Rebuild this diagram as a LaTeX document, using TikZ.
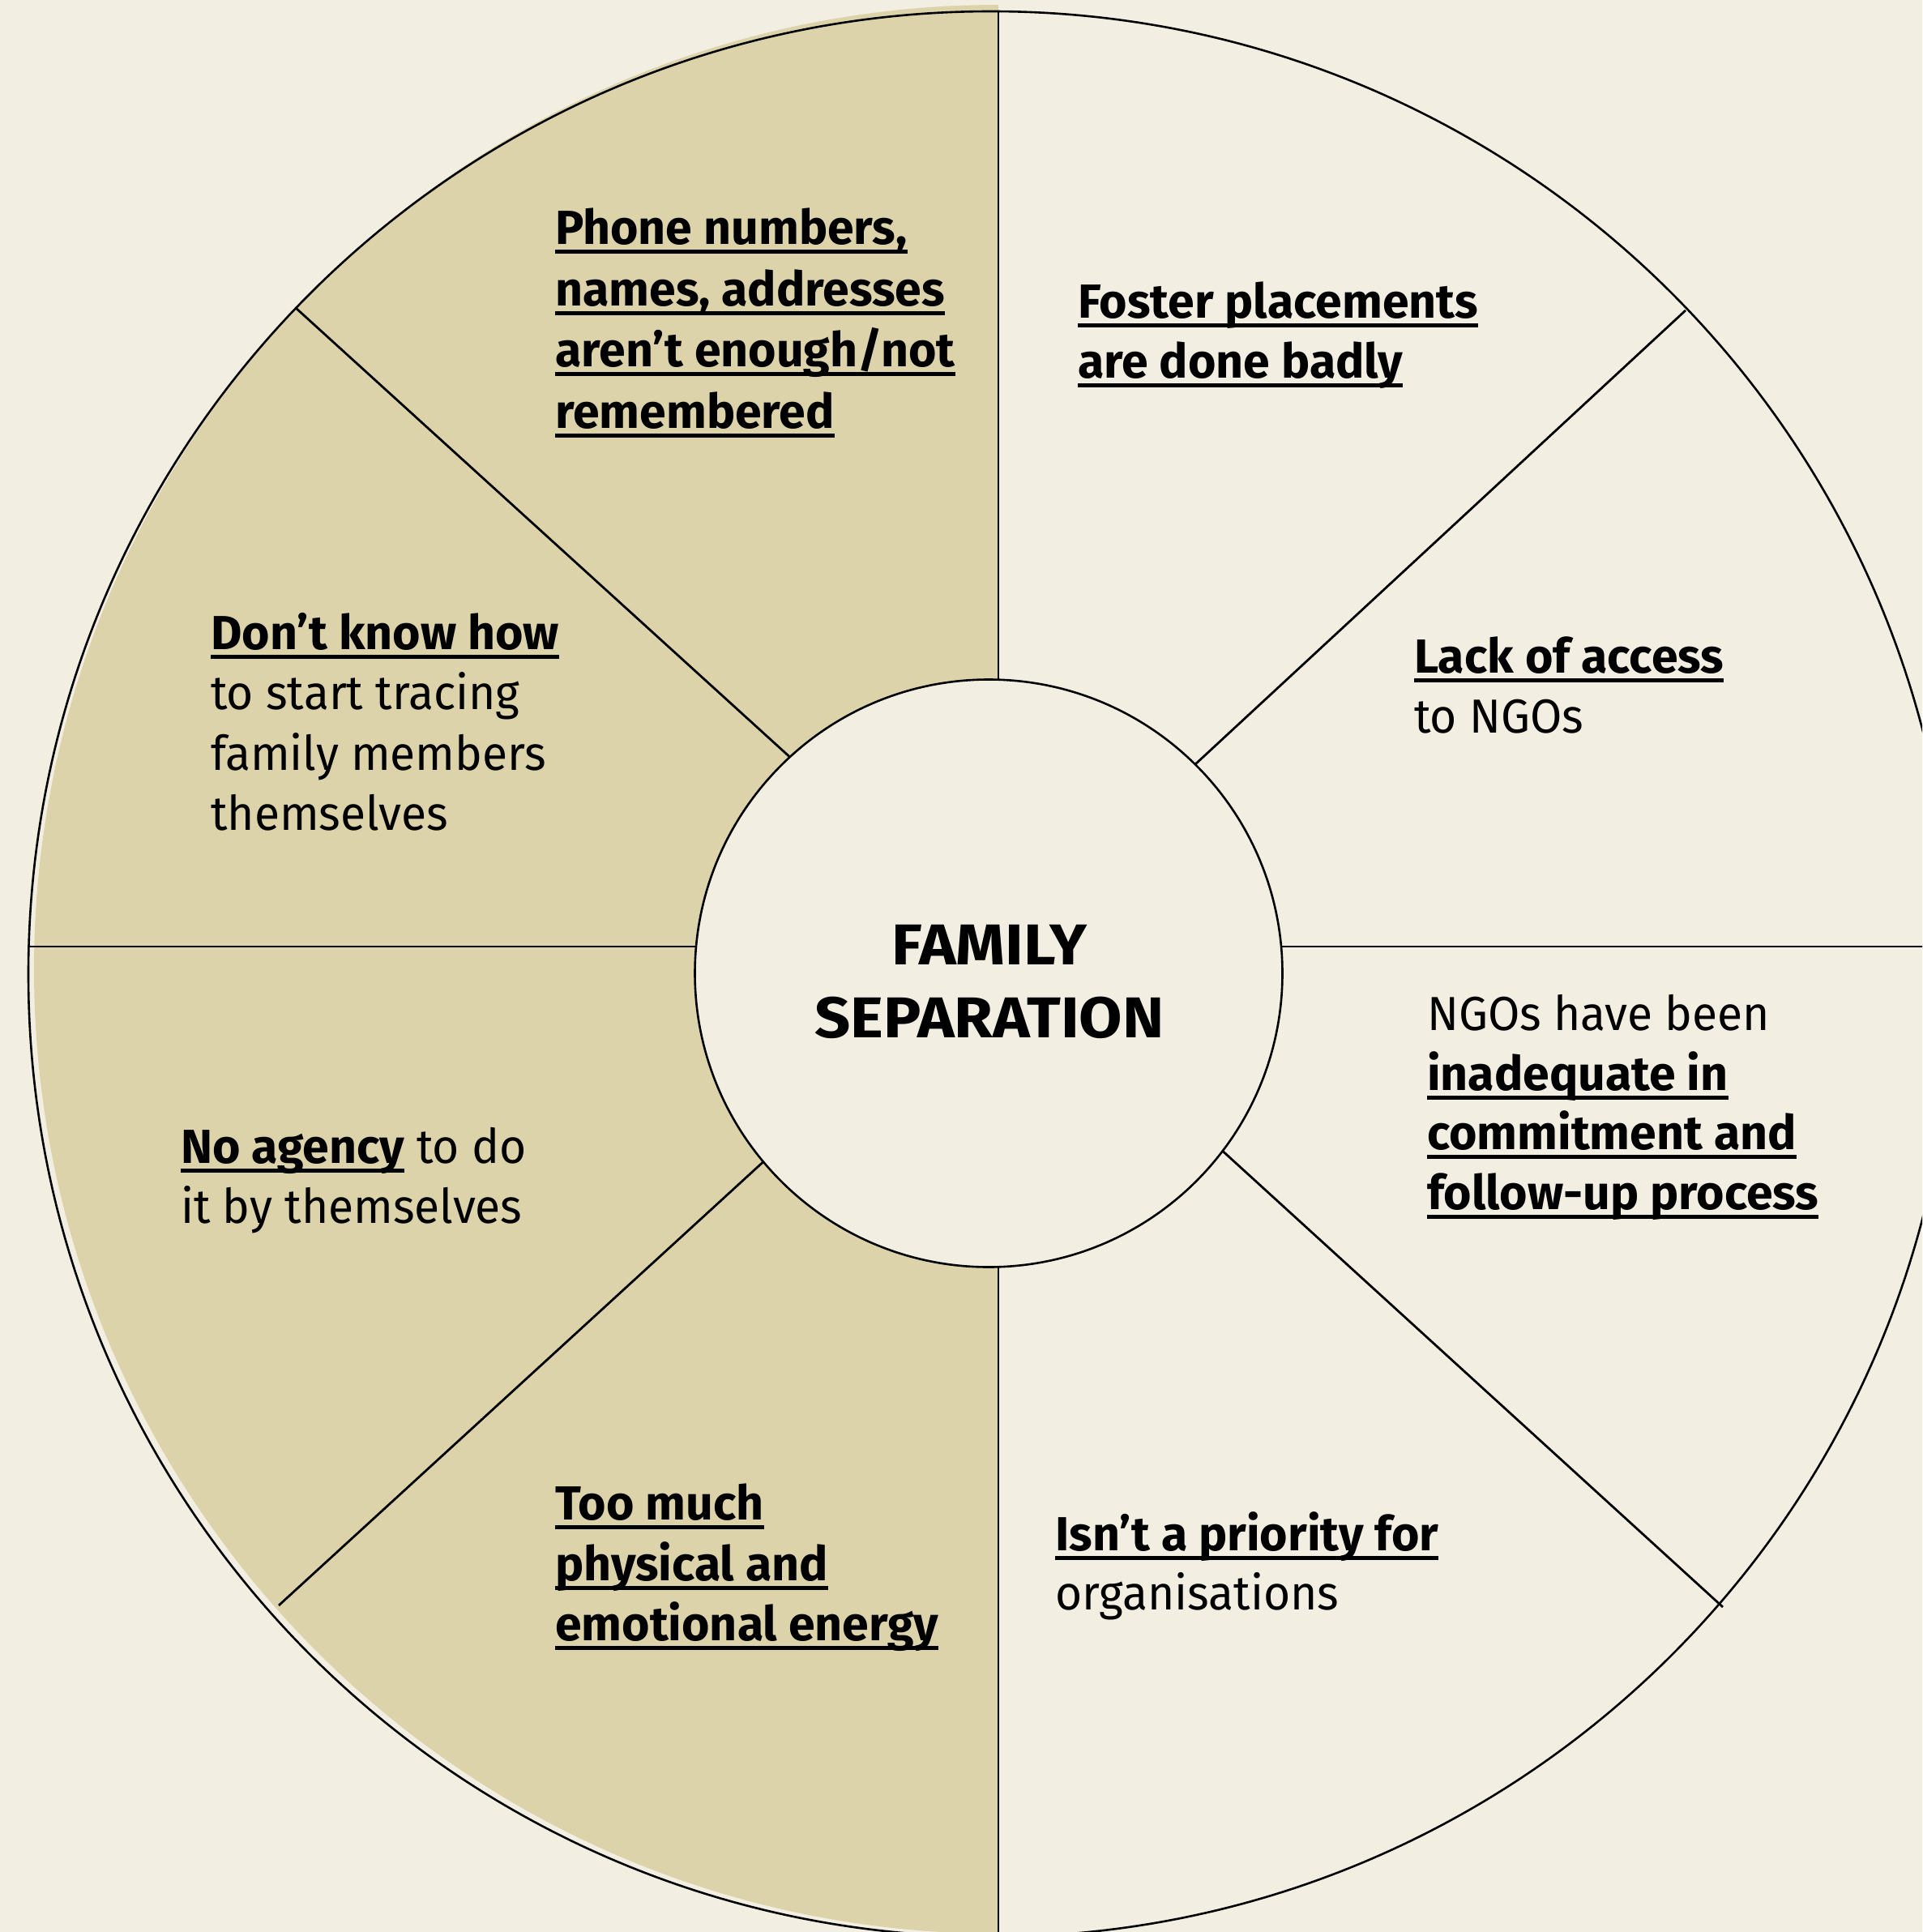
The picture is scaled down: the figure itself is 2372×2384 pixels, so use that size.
\documentclass[tikz,border=0pt]{standalone}
\usepackage{fontspec}
\setmainfont{Fira Sans}[UprightFeatures={FakeStretch=0.965}]
\newfontfamily\ctrfont{Fira Sans}[FakeStretch=1.09]
\definecolor{wheelbg}{HTML}{F2EEE2}
\definecolor{wheeltan}{HTML}{DCD3AA}
\newsavebox\ulbox
\newcommand\ub[1]{\sbox\ulbox{\bfseries #1}\rlap{\rule[-12pt]{\wd\ulbox}{5pt}}\usebox\ulbox}
\begin{document}
\begin{tikzpicture}[x=1pt,y=1pt,
  spoke/.style={line width=2.8pt,black},
  txt/.style={anchor=base west,inner sep=0pt,font=\fontsize{59}{74}\selectfont},
  ctr/.style={anchor=base,inner sep=0pt,font=\ctrfont\fontsize{71}{90}\selectfont\bfseries}]
\useasboundingbox (0,0) rectangle (2372,-2384);
\clip (0,0) rectangle (2372,-2384);
\fill[wheelbg] (0,0) rectangle (2372,-2384);
\fill[wheeltan] (1232,-6) arc[start angle=90,end angle=270,radius=1190] -- cycle;
\draw[line width=2.6pt] (1223,-1202) circle[radius=1188];
\coordinate (hub) at (1232,-1168);
\coordinate (top) at (1232,-14);
\coordinate (bot) at (1232,-2400);
\coordinate (lft) at (35,-1168);
\coordinate (rgt) at (2400,-1168);
\coordinate (ul) at (365,-380);
\coordinate (ur) at (2080,-383);
\coordinate (ll) at (344,-1981);
\coordinate (lr) at (2126,-1983);
\foreach \e in {top,bot,lft,rgt,ul,ur,ll,lr} \draw[spoke] (hub) -- (\e);
\node[circle,draw,line width=2.6pt,fill=wheelbg,minimum size=725pt,inner sep=0pt] (core) at (1220,-1201) {};
\node[ctr] (famA) at (1221,-1190) {FAMILY};
\node[ctr] (famB) at (1221,-1280) {SEPARATION};
% top-left sector
\node[txt] (ph1) at (685,-301) {\ub{Phone numbers,}};
\node[txt] (ph2) at (685,-377) {\ub{names, addresses}};
\node[txt] (ph3) at (685,-452) {\ub{aren’t enough/not}};
\node[txt] (ph4) at (685,-528) {\ub{remembered}};
% top-right sector
\node[txt] (fo1) at (1330,-392) {\ub{Foster placements}};
\node[txt] (fo2) at (1330,-466) {\ub{are done badly}};
% left-upper sector
\node[txt] (dk1) at (260,-801) {\ub{Don’t know how}};
\node[txt] (dk2) at (260,-875) {to start tracing};
\node[txt] (dk3) at (260,-950) {family members};
\node[txt] (dk4) at (260,-1024) {themselves};
% right-upper sector
\node[txt] (la1) at (1745,-830) {\ub{Lack of access}};
\node[txt] (la2) at (1745,-904) {to NGOs};
% right-lower sector
\node[txt] (ng1) at (1761,-1271) {NGOs have been};
\node[txt] (ng2) at (1761,-1345) {\ub{inadequate in}};
\node[txt] (ng3) at (1761,-1418) {\ub{commitment and}};
\node[txt] (ng4) at (1761,-1492) {\ub{follow-up process}};
% left-lower sector
\node[txt] (na1) at (223,-1435) {\ub{No agency} to do};
\node[txt] (na2) at (223,-1509) {it by themselves};
% bottom-left sector
\node[txt] (tm1) at (685,-1875) {\ub{Too much}};
\node[txt] (tm2) at (685,-1950) {\ub{physical and}};
\node[txt] (tm3) at (685,-2024) {\ub{emotional energy}};
% bottom-right sector
\node[txt] (ip1) at (1302,-1913) {\ub{Isn’t a priority for}};
\node[txt] (ip2) at (1302,-1986) {organisations};
\end{tikzpicture}
\end{document}
